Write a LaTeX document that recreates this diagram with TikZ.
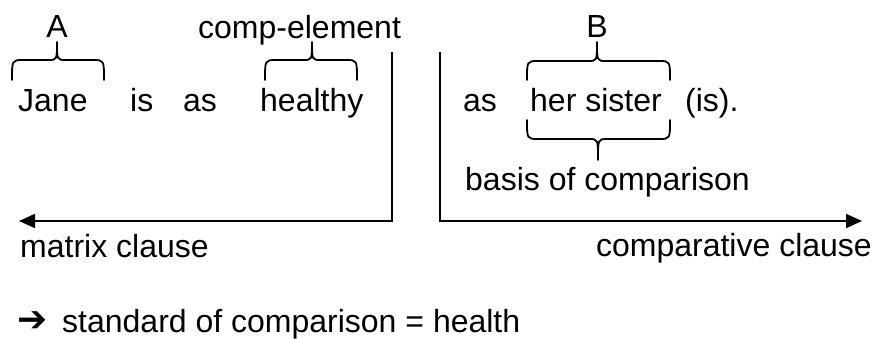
\documentclass[tikz,border=0pt]{standalone}
\usepackage{fontspec}
\setmainfont{Liberation Sans}
\newfontfamily\symfont{DejaVu Sans}
\usetikzlibrary{arrows.meta}
\tikzset{
  txt/.style={anchor=base west, inner sep=0pt, font=\fontsize{32}{38}\selectfont},
  ctxt/.style={anchor=base, inner sep=0pt, font=\fontsize{32}{38}\selectfont},
  rtxt/.style={anchor=base east, inner sep=0pt, font=\fontsize{32}{38}\selectfont},
  bracestyle/.style={line width=1.8pt, line cap=round, line join=round},
  clauseline/.style={line width=1.8pt, -{Triangle[length=16pt,width=14pt]}}
}
\newcommand{\mybrace}[6]{% x1, x2, xtip, yend, ymid, ytip
  \draw[bracestyle] (#1,#4) .. controls (#1,#5) .. (#1+11,#5) -- (#3-9,#5)
    .. controls (#3,#5) .. (#3,#6) .. controls (#3,#5) .. (#3+9,#5)
    -- (#2-11,#5) .. controls (#2,#5) .. (#2,#4);}
\begin{document}
\begin{tikzpicture}[x=1pt,y=-1pt]
\useasboundingbox (0,0) rectangle (875,338);
% top labels
\node[ctxt] (A) at (57,37) {A};
\node[txt] (comp) at (198,38) {comp-element};
\node[ctxt] (B) at (597,37) {B};
% main sentence
\node[txt] (jane) at (18,111) {Jane};
\node[txt] (is) at (130,111) {is};
\node[txt] (as1) at (183,111) {as};
\node[txt] (healthy) at (260,111) {healthy};
\node[txt] (as2) at (463,111) {as};
\node[txt] (sister) at (530,111) {her sister};
\node[txt] (isp) at (685,111) {(is).};
\node[txt] (basis) at (465,190) {basis of comparison};
% braces
\mybrace{12}{104}{57}{80}{60}{42}
\mybrace{265}{357}{312}{80}{60}{42}
\mybrace{527}{670}{597}{80}{61}{42}
\mybrace{527}{670}{598}{120}{139}{160}
% clause lines
\coordinate (ltop) at (392,52);
\coordinate (lcorner) at (392,221);
\coordinate (lend) at (19,221);
\coordinate (rtop) at (440,52);
\coordinate (rcorner) at (440,221);
\coordinate (rend) at (862,221);
\draw[clauseline] (ltop) -- (lcorner) -- (lend);
\draw[clauseline] (rtop) -- (rcorner) -- (rend);
\node[txt] (matrix) at (20,257) {matrix clause};
\node[rtxt] (compcl) at (872,256) {comparative clause};
% conclusion
\node[txt, font=\fontsize{36}{36}\selectfont] (arr) at (17,331) {\symfont\bfseries ➔};
\node[txt] (std) at (62,332) {standard of comparison = health};
\end{tikzpicture}
\end{document}
